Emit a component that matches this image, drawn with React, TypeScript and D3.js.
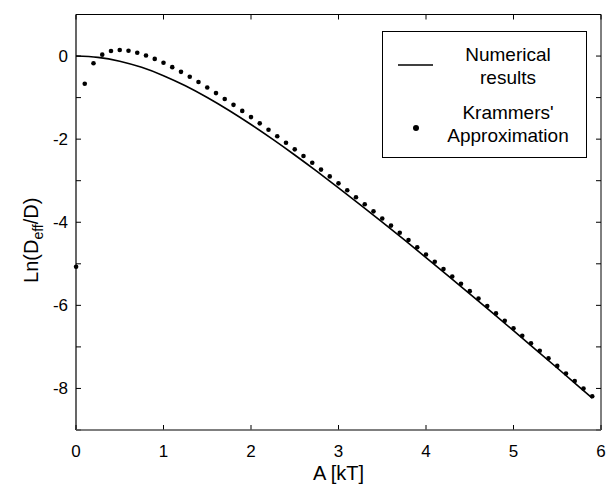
import React from "react";
import * as d3 from "d3";

// Numerical results (A [kT], Ln(Deff/D))
const numA = [0, 0.25, 0.5, 0.75, 1.0, 1.25, 1.5, 1.75, 2.0, 2.25, 2.5, 2.75, 3.0, 3.25, 3.5, 3.75, 4.0, 4.25, 4.5, 4.75, 5.0, 5.25, 5.5, 5.75, 5.9];
const numY = [0, -0.031, -0.123, -0.272, -0.472, -0.716, -0.998, -1.31, -1.648, -2.007, -2.382, -2.771, -3.171, -3.58, -3.997, -4.421, -4.85, -5.284, -5.722, -6.164, -6.609, -7.057, -7.508, -7.961, -8.234];

// Krammers' approximation points
const kramA = [0.001, 0.1, 0.2, 0.3, 0.4, 0.5, 0.6, 0.7, 0.8, 0.9, 1.0, 1.1, 1.2, 1.3, 1.4, 1.5, 1.6, 1.7, 1.8, 1.9, 2.0, 2.1, 2.2, 2.3, 2.4, 2.5, 2.6, 2.7, 2.8, 2.9, 3.0, 3.1, 3.2, 3.3, 3.4, 3.5, 3.6, 3.7, 3.8, 3.9, 4.0, 4.1, 4.2, 4.3, 4.4, 4.5, 4.6, 4.7, 4.8, 4.9, 5.0, 5.1, 5.2, 5.3, 5.4, 5.5, 5.6, 5.7, 5.8, 5.9];
const kramY = [-5.07, -0.665, -0.172, 0.034, 0.122, 0.145, 0.127, 0.081, 0.015, -0.068, -0.162, -0.267, -0.38, -0.5, -0.626, -0.757, -0.892, -1.032, -1.174, -1.32, -1.469, -1.62, -1.774, -1.929, -2.087, -2.246, -2.407, -2.569, -2.733, -2.897, -3.064, -3.231, -3.399, -3.568, -3.738, -3.909, -4.081, -4.254, -4.427, -4.601, -4.776, -4.951, -5.127, -5.304, -5.481, -5.658, -5.836, -6.015, -6.194, -6.373, -6.553, -6.733, -6.914, -7.094, -7.276, -7.457, -7.639, -7.822, -8.004, -8.187];

const xTicks = [0, 1, 2, 3, 4, 5, 6];
const yTicks = [1, 0, -1, -2, -3, -4, -5, -6, -7, -8, -9];
const yLabels = [0, -2, -4, -6, -8];
const legendNames = ["Numerical", "results", "Krammers'", "Approximation"];

const W = 607, H = 489;
const L = 76, R = 601, T = 14.5, B = 430;
const FONT = "'Liberation Sans', Arial, Helvetica, sans-serif";

export default function App() {
  const x = d3.scaleLinear().domain([0, 6]).range([L, R]);
  const y = d3.scaleLinear().domain([-9, 1]).range([B, T]);
  const line = d3
    .line<number>()
    .x((_, i) => x(numA[i]))
    .y((d) => y(d))
    .curve(d3.curveMonotoneX);
  const tl = 5;
  return (
    <svg width={W} height={H} style={{ position: "absolute", left: 0, top: 0, background: "#fff" }} fontFamily={FONT}>
      <rect x={0} y={0} width={W} height={H} fill="#fff" />
      {/* ticks */}
      {xTicks.map((t) => (
        <g key={"xt" + t}>
          <line x1={x(t)} x2={x(t)} y1={B} y2={B - tl} stroke="#000" strokeWidth={1} />
          <line x1={x(t)} x2={x(t)} y1={T} y2={T + tl} stroke="#000" strokeWidth={1} />
          <text x={x(t)} y={457} textAnchor="middle" fontSize={17} fill="#000">
            {t}
          </text>
        </g>
      ))}
      {yTicks.map((t) => (
        <g key={"yt" + t}>
          <line x1={L} x2={L + tl} y1={y(t)} y2={y(t)} stroke="#000" strokeWidth={1} />
          <line x1={R} x2={R - tl} y1={y(t)} y2={y(t)} stroke="#000" strokeWidth={1} />
        </g>
      ))}
      {yLabels.map((t) => (
        <text key={"yl" + t} x={68} y={y(t)} dy="0.35em" textAnchor="end" fontSize={17} fill="#000">
          {t}
        </text>
      ))}
      {/* frame */}
      <line x1={L} x2={R} y1={T} y2={T} stroke="#000" strokeWidth={1} />
      <line x1={L} x2={L} y1={T} y2={B} stroke="#000" strokeWidth={1.2} />
      <line x1={R} x2={R} y1={T} y2={B} stroke="#000" strokeWidth={1} />
      <line x1={L} x2={R} y1={B} y2={B} stroke="#555" strokeWidth={1.6} />
      {/* data */}
      <path d={line(numY) || ""} fill="none" stroke="#000" strokeWidth={1.6} />
      {kramA.map((a, i) => (
        <circle key={"k" + i} cx={x(a)} cy={y(kramY[i])} r={2.3} fill="#000" />
      ))}
      {/* axis titles */}
      <text x={(L + R) / 2} y={480} textAnchor="middle" fontSize={20} fill="#000">
        A [kT]
      </text>
      <text transform={`translate(38,${(T + B) / 2 + 18}) rotate(-90)`} textAnchor="middle" fontSize={20} fill="#000">
        Ln(D<tspan fontSize={14} dy={5}>eff</tspan>
        <tspan dy={-5}>/D)</tspan>
      </text>
      {/* legend */}
      <rect x={382.5} y={31.5} width={204} height={126} fill="#fff" stroke="#000" strokeWidth={1} />
      <line x1={398} x2={433} y1={65} y2={65} stroke="#000" strokeWidth={1.6} />
      <circle cx={416} cy={128} r={3} fill="#000" />
      <text x={508} y={61} textAnchor="middle" fontSize={19} fill="#000">{legendNames[0]}</text>
      <text x={508} y={84} textAnchor="middle" fontSize={19} fill="#000">{legendNames[1]}</text>
      <text x={508} y={119} textAnchor="middle" fontSize={19} fill="#000">{legendNames[2]}</text>
      <text x={508} y={142} textAnchor="middle" fontSize={19} fill="#000">{legendNames[3]}</text>
    </svg>
  );
}
